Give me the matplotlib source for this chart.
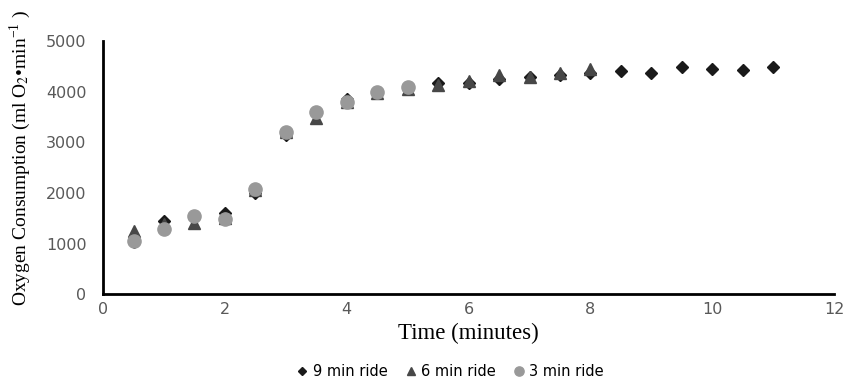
import matplotlib
matplotlib.use("Agg")
import matplotlib.pyplot as plt

# minutes into the ride
t9 = [0.5, 1.0, 1.5, 2.0, 2.5, 3.0, 3.5, 4.0, 4.5, 5.0, 5.5, 6.0, 6.5, 7.0, 7.5,
      8.0, 8.5, 9.0, 9.5, 10.0, 10.5, 11.0]
vo2_9 = [1020, 1450, 1500, 1600, 2000, 3150, 3600, 3850, 3980, 4050, 4170, 4170,
         4250, 4280, 4320, 4370, 4400, 4370, 4490, 4450, 4420, 4490]

t6 = [0.5, 1.0, 1.5, 2.0, 2.5, 3.0, 3.5, 4.0, 4.5, 5.0, 5.5, 6.0, 6.5, 7.0, 7.5, 8.0]
vo2_6 = [1250, 1380, 1400, 1500, 2050, 3200, 3480, 3800, 3980, 4050, 4130, 4200,
         4320, 4280, 4360, 4440]

t3 = [0.5, 1.0, 1.5, 2.0, 2.5, 3.0, 3.5, 4.0, 4.5, 5.0]
vo2_3 = [1040, 1280, 1550, 1480, 2070, 3200, 3600, 3800, 4000, 4100]

labels = ["9 min ride", "6 min ride", "3 min ride"]
xticks = [0, 2, 4, 6, 8, 10, 12]
yticks = [0, 1000, 2000, 3000, 4000, 5000]

plt.rcParams['mathtext.fontset'] = 'stix'

fig = plt.figure(figsize=(8.59, 3.83), dpi=100)
ax = fig.add_axes([0.12, 0.232, 0.851, 0.661])

ax.plot(t9, vo2_9, 'D', color='#1a1a1a', markersize=6, label=labels[0], zorder=3)
ax.plot(t6, vo2_6, '^', color='#474747', markersize=8, label=labels[1], zorder=4)
ax.plot(t3, vo2_3, 'o', color='#999999', markersize=9.5, label=labels[2], zorder=5)

ax.set_xlim(0, 12)
ax.set_ylim(0, 5000)
ax.set_xticks(xticks)
ax.set_yticks(yticks)
ax.tick_params(length=0, labelsize=11.5, labelcolor='#595959')
ax.tick_params(axis='x', pad=6)
ax.tick_params(axis='y', pad=12)
for lab in ax.get_xticklabels() + ax.get_yticklabels():
    lab.set_family('DejaVu Sans')

for s in ['top', 'right']:
    ax.spines[s].set_visible(False)
for s in ['left', 'bottom']:
    ax.spines[s].set_linewidth(2)
    ax.spines[s].set_color('black')

ax.set_xlabel('Time (minutes)', family='Liberation Serif', fontsize=16.5, labelpad=4)
ax.set_ylabel(r'Oxygen Consumption (ml O$_2$•min$^{\mathregular{-1}}$ )',
              family='Liberation Serif', fontsize=14)
ax.yaxis.set_label_coords(-0.096, 0.54)

fig.legend(loc='lower center', bbox_to_anchor=(0.524, -0.025), ncol=3, frameon=False,
           fontsize=10.5, handlelength=0.8, handletextpad=0.3, columnspacing=1.2,
           markerscale=0.7)

fig.savefig('out.png', dpi=100)
